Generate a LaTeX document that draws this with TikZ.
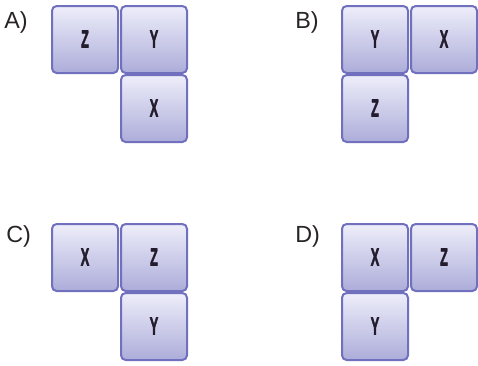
\documentclass[tikz,border=0pt]{standalone}
\usepackage{fontspec}
\setmainfont{Liberation Sans}
\font\tilef="Liberation Sans/B:embolden=2.5" at 18.5pt
\definecolor{boxedge}{RGB}{112,112,190}
\definecolor{boxtop}{RGB}{238,238,250}
\definecolor{boxbot}{RGB}{172,172,218}
\definecolor{letter}{RGB}{35,28,45}
\definecolor{lab}{RGB}{40,36,36}
\begin{document}
\begin{tikzpicture}[x=0.75pt,y=-0.75pt,
  tile/.style={rounded corners=3.5pt, draw=boxedge, line width=1.5pt, top color=boxtop, bottom color=boxbot},
  tiletext/.style={font=\tilef, text=letter, xscale=0.52},
  optlab/.style={font=\fontsize{17.5pt}{19pt}\selectfont, text=lab, anchor=base west, inner sep=0pt}]
\useasboundingbox (0,0) rectangle (478,365);
% helper macro for a tile
\newcommand{\mytile}[4]{%
  \path[tile] (#1,#2) rectangle ++(66,67);
  \node[tiletext] (#4) at (#1+33,#2+33) {#3};}
% A
\node[optlab] (la) at (4,28) {A)};
\mytile{52}{6}{Z}{aZ}
\mytile{121}{6}{Y}{aY}
\mytile{121}{75}{X}{aX}
% B
\node[optlab] (lb) at (295,28) {B)};
\mytile{342}{6}{Y}{bY}
\mytile{411}{6}{X}{bX}
\mytile{342}{75}{Z}{bZ}
% C
\node[optlab] (lc) at (6,242) {C)};
\mytile{52}{224}{X}{cX}
\mytile{121}{224}{Z}{cZ}
\mytile{121}{293}{Y}{cY}
% D
\node[optlab] (ld) at (295,242) {D)};
\mytile{342}{224}{X}{dX}
\mytile{411}{224}{Z}{dZ}
\mytile{342}{293}{Y}{dY}
\end{tikzpicture}
\end{document}
